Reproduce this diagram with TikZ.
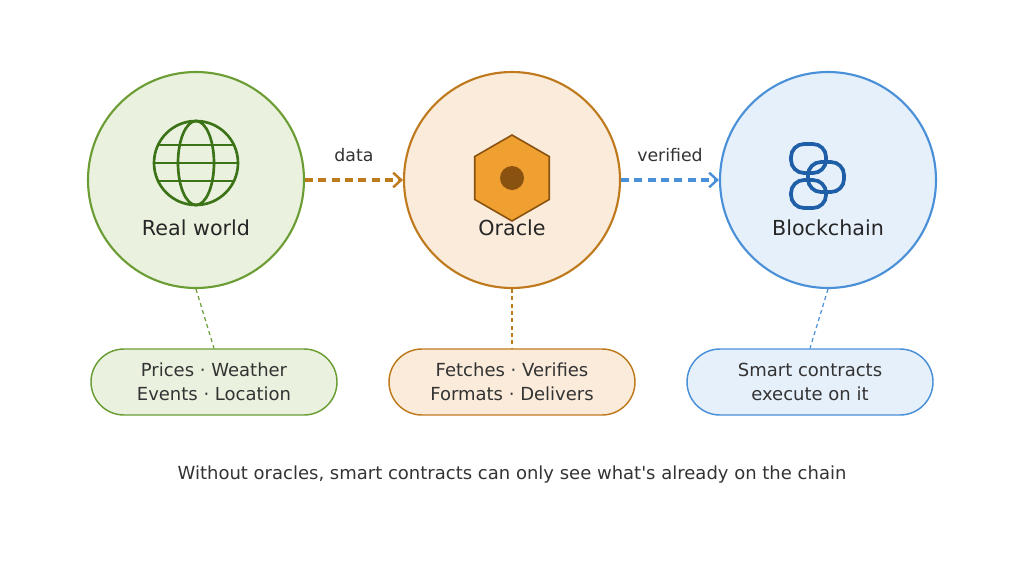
\documentclass[tikz,border=0pt]{standalone}
\usepackage{fontspec}
\setmainfont{DejaVu Sans}
\usetikzlibrary{arrows.meta,shapes.geometric}
\definecolor{gline}{HTML}{6A9E34}
\definecolor{gfill}{HTML}{EAF2DF}
\definecolor{gdark}{HTML}{3D7317}
\definecolor{oline}{HTML}{C07A1E}
\definecolor{ofill}{HTML}{FAEBDA}
\definecolor{ohex}{HTML}{F0A030}
\definecolor{odark}{HTML}{8A5210}
\definecolor{bline}{HTML}{4A90D9}
\definecolor{bfill}{HTML}{E6F0FB}
\definecolor{bdark}{HTML}{1F5FA8}
\definecolor{txt}{HTML}{333333}
\newlength{\pxu}\setlength{\pxu}{0.75pt}
\tikzset{
  hub/.style={circle, minimum size=216\pxu, line width=1.6pt},
  hubname/.style={font=\fontsize{15.5}{18}\selectfont, text=black!85},
  pill/.style={rounded corners=33\pxu, minimum width=246\pxu, minimum height=66\pxu, line width=1.1pt, align=center, font=\fontsize{13.5}{18}\selectfont, text=txt},
  lead/.style={dash pattern=on 3pt off 2.5pt, line width=0.9pt},
  flow/.style={line width=2.4pt, dash pattern=on 6pt off 4pt, -{Straight Barb[length=6pt,width=11pt,line width=1.8pt]}},
  flowlabel/.style={above=9pt, font=\fontsize{13}{15}\selectfont, text=txt},
}
\begin{document}
\begin{tikzpicture}[x=0.75pt,y=-0.75pt]
  \useasboundingbox (0,0) rectangle (1024,572);

  % hubs
  \node[hub, draw=gline, fill=gfill] (world) at (196,180) {};
  \node[hub, draw=oline, fill=ofill] (oracle) at (512,180) {};
  \node[hub, draw=bline, fill=bfill] (chain) at (828,180) {};
  \node[hubname] (worldname) at (196,228) {Real world};
  \node[hubname] (oraclename) at (512,228) {Oracle};
  \node[hubname] (chainname) at (828,228) {Blockchain};

  % globe
  \begin{scope}[draw=gdark, line width=2pt]
    \draw (196,163) circle (42);
    \draw (196,163) ellipse (18 and 42);
    \draw (154,163) -- (238,163);
    \draw (158,145) -- (234,145);
    \draw (158,181) -- (234,181);
  \end{scope}

  % hexagon
  \node[regular polygon, regular polygon sides=6, rotate=30, minimum size=86\pxu, draw=odark, fill=ohex, line width=1.2pt] (hex) at (512,178) {};
  \fill[odark] (512,178) circle (12);

  % chain links
  \begin{scope}[draw=bdark, line width=2.8pt]
    \draw[rounded corners=13\pxu] (791,144) rectangle (826,173);
    \draw[rounded corners=13\pxu] (808,162) rectangle (844,192);
    \draw[rounded corners=13\pxu] (791,180) rectangle (826,208);
  \end{scope}

  % pills
  \node[pill, draw=gline, fill=gfill] (wnote) at (214,382) {Prices · Weather\\Events · Location};
  \node[pill, draw=oline, fill=ofill] (onote) at (512,382) {Fetches · Verifies\\Formats · Delivers};
  \node[pill, draw=bline, fill=bfill] (bnote) at (810,382) {Smart contracts\\execute on it};

  \draw[lead, draw=gline] (world.south) -- (wnote.north);
  \draw[lead, draw=oline] (oracle.south) -- (onote.north);
  \draw[lead, draw=bline] (chain.south) -- (bnote.north);

  % flows
  \draw[flow, draw=oline] (world.east) -- node[flowlabel] {data} (oracle.west);
  \draw[flow, draw=bline] (oracle.east) -- node[flowlabel] {verified} (chain.west);

  \node[font=\fontsize{13.5}{16}\selectfont, text=txt] (caption) at (512,475) {Without oracles, smart contracts can only see what\textquotesingle s already on the chain};
\end{tikzpicture}
\end{document}
